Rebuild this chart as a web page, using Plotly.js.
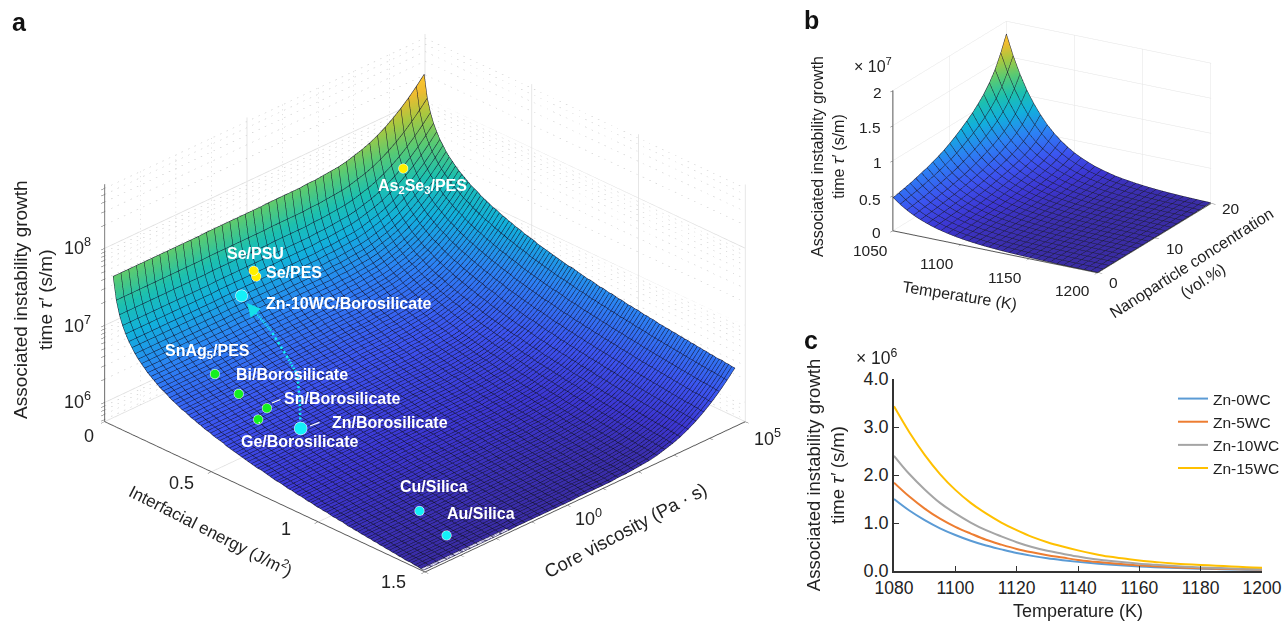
<!DOCTYPE html>
<html><head><meta charset="utf-8">
<script src="https://cdn.plot.ly/plotly-3.0.1.min.js"></script>
<style>html,body{margin:0;padding:0;background:#fff}#p{width:1282px;height:622px}</style>
</head><body><div id="p"></div>
<script>
// ---------- Panel a values ----------
const gammaLift=[1.92,1.63,1.46,1.34,1.25,1.17,1.11,1.05,1.00,.96,.92,.88,.85,.82,.79,.76,.74,.72,.69,.67,
.65,.63,.61,.60,.58,.56,.55,.53,.52,.50,.49,.48,.46,.45,.44,.43,.41,.40,.39,.38,
.37,.36,.35,.34,.33,.32,.31,.31,.30,.29,.28,.27,.26,.26,.25,.24,.23,.23,.22,.21,
.21,.20,.19,.19,.18,.17,.17,.16,.16,.15,.14,.14,.13,.13,.12,.11,.11,.10,.10,.09,
.09,.08,.08,.07,.07,.06,.06,.05,.05,.04,.04,.03,.03,.02,.02,.02,.01,.01,.00,.00];
const gammaStart=0.033, gammaStep=0.0147;
const etaLift=[0,0,0,0,0,0,0,0,0,0,0,0,.005,.005,.005,.005,.005,.005,.005,.005,.01,.01,.01,.01,.01,.02,.02,.03,.04,.05,.07,.10,.13,.17,.22,.28,.35,.43,.52,.62,.73];
const etaStartExp=-3.96, etaStepExp=0.2185;
const surfaceBaseExp=5.75;
const gammaTicks=[0,0.5,1,1.5];
const etaMajorExp=[-4,0,5], etaMinorExp=[-3,-2,-1,1,2,3,4];
const zMajorExp=[6,7,8], zRangeExp=[5.75,8.83];
const zMinorFactors=[2,3,4,5,6,7,8,9];

const matNames=['Au/Silica','Cu/Silica','Zn/Borosilicate','Ge/Borosilicate','Sn/Borosilicate','Bi/Borosilicate','SnAg5/PES','Zn-10WC/Borosilicate','Se/PSU','Se/PES','As2Se3/PES'];
const matGamma=[1.38,1.215,.63,.518,.49,.39,.285,.11,.075,.087,.069];
const matEtaExp=[-2.67,-2.44,-2.27,-2.79,-2.38,-2.57,-2.61,-.81,-.26,-.26,3.98];
const matTauExp=[5.785,5.838,6.112,6.194,6.216,6.312,6.442,6.84,7.0,6.94,7.40];
const matColor=['#14f0f8','#14f0f8','#14f0f8','#14f020','#14f020','#14f020','#14f020','#14f0f8','#fff000','#fff000','#fff000'];
const matSize=[11,11,15,11,11,11,11,14,11,11,11];
const pathGamma=[.63,.525,.42,.345,.2325,.195,.155];
const pathEtaExp=[-2.27,-1.66,-1.10,-.92,-.72,-.72,-.75];
const pathTauExp=[6.112,6.188,6.28,6.362,6.527,6.60,6.696];

// ---------- Panel b values ----------
const tempB=[1050,1055,1060,1065,1070,1075,1080,1085,1090,1095,1100,1105,1110,1115,1120,1125,1130,1135,1140,1145,1150,1155,1160,1165,1170,1175,1180,1185,1190,1195,1200];
const tempFactorB=[4.70,3.95,3.32,2.79,2.35,1.98,1.66,1.40,1.18,.99,.83,.70,.59,.49,.415,.35,.29,.245,.21,.175,.147,.124,.104,.087,.073,.062,.052,.044,.037,.031,.026];
const concB=[0,1,2,3,4,5,6,7,8,9,10,11,12,13,14,15,16,17,18,19,20];
const concFactorB=[1,1.04,1.08,1.12,1.17,1.23,1.28,1.35,1.42,1.5,1.6,1.71,1.83,1.96,2.1,2.27,2.46,2.7,3.0,3.4,3.87];

// ---------- Panel c values (x 10^6) ----------
const tempC=[1080,1085,1090,1095,1100,1105,1110,1115,1120,1125,1130,1135,1140,1145,1150,1155,1160,1165,1170,1175,1180,1185,1190,1195,1200];
const zn0=[1.50,1.26,1.06,.89,.75,.63,.53,.45,.375,.315,.265,.225,.19,.16,.135,.113,.095,.08,.067,.056,.047,.04,.033,.028,.024];
const zn5=[1.84,1.55,1.30,1.09,.92,.78,.65,.55,.46,.39,.33,.28,.23,.195,.165,.14,.117,.098,.083,.069,.058,.049,.041,.035,.03];
const zn10=[2.40,2.02,1.70,1.42,1.20,1.01,.85,.72,.60,.50,.42,.36,.30,.25,.215,.18,.15,.128,.107,.09,.075,.064,.053,.045,.038];
const zn15=[3.43,2.89,2.42,2.02,1.69,1.42,1.20,1.01,.85,.71,.60,.51,.43,.36,.30,.26,.22,.19,.16,.14,.125,.11,.095,.08,.07];
const seriesC=[['Zn-0WC',zn0,'#5b9bd5'],['Zn-5WC',zn5,'#ed7d31'],['Zn-10WC',zn10,'#a5a5a5'],['Zn-15WC',zn15,'#ffc000']];

const FONT='"Liberation Sans", Arial, sans-serif';
const parula=[[0,'#3a2ca4'],[.08,'#3c36d2'],[.18,'#3c54f0'],[.32,'#2c82f4'],[.46,'#12b0dc'],[.58,'#1cc0b0'],[.7,'#58ca74'],[.82,'#a8c840'],[.92,'#eebc30'],[1,'#ffc82e']];

const gammaVals=gammaLift.map((_,j)=>gammaStart+j*gammaStep);
const etaExps=etaLift.map((_,i)=>etaStartExp+i*etaStepExp);
const etaVals=etaExps.map(e=>Math.pow(10,e));
const surfAColor=etaLift.map(e=>gammaLift.map(h=>surfaceBaseExp+h+e));
const surfAZ=surfAColor.map(r=>r.map(v=>Math.pow(10,v)));
const p10=v=>Math.pow(10,v);
const etaLo=p10(-4),etaHi=p10(5),zLo=p10(zRangeExp[0]),zHi=p10(zRangeExp[1]);
// marks are slid toward the viewer along the line of sight so the surface cannot hide them
const sightGamma=.045, sightEtaExp=-.277, sightTauExp=.116;

function lineTrace(scene,color,width,xs,ys,zs){return {type:'scatter3d',mode:'lines',scene,x:xs,y:ys,z:zs,line:{color,width},hoverinfo:'skip',showlegend:false};}
function wallLines(color,width,segs){
  const x=[],y=[],z=[];
  segs.forEach(s=>{x.push(s[0],s[3],null);y.push(s[1],s[4],null);z.push(s[2],s[5],null);});
  return lineTrace('scene',color,width,x,y,z);
}
const zMinorVals=[];
[5,6,7,8].forEach(d=>zMinorFactors.forEach(f=>{const v=f*p10(d);if(v>zLo&&v<zHi)zMinorVals.push(v);}));
const majorSegs=[],minorSegs=[];
zMajorExp.map(p10).forEach(v=>{majorSegs.push([0,etaLo,v,0,etaHi,v],[0,etaHi,v,1.5,etaHi,v]);});
etaMajorExp.map(p10).forEach(v=>{majorSegs.push([0,v,zLo,0,v,zHi]);});
gammaTicks.forEach(g=>{majorSegs.push([g,etaHi,zLo,g,etaHi,zHi]);majorSegs.push([g,etaLo,zLo,g,etaHi,zLo]);});
etaMajorExp.map(p10).forEach(v=>majorSegs.push([0,v,zLo,1.5,v,zLo]));
const dotsAlong=50, dotLen=.22;
function dots(fn){for(let k=0;k<dotsAlong;k++){const a=k/dotsAlong,b=(k+dotLen)/dotsAlong;const A=fn(a),B=fn(b);minorSegs.push([A[0],A[1],A[2],B[0],B[1],B[2]]);}}
zMinorVals.forEach(v=>{
  dots(t=>[0,p10(-4+9*t),v]);
  dots(t=>[1.5*t,etaHi,v]);
});
etaMinorExp.forEach(e=>dots(t=>[0,p10(e),p10(zRangeExp[0]+(zRangeExp[1]-zRangeExp[0])*t)]));

const zTickAll=zMajorExp.map(p10).concat(zMinorVals);
const etaTickAll=etaMajorExp.concat(etaMinorExp).map(p10);

// mesh of panel a: one polyline per grid row and per grid column, just in front of the surface
const meshGammaLift=.006, meshEtaLift=-.037, meshTauLift=.0155;
const mAx=[],mAy=[],mAz=[];
etaExps.forEach((e,i)=>{gammaVals.forEach((g,j)=>{mAx.push(g+meshGammaLift);mAy.push(p10(e+meshEtaLift));mAz.push(p10(surfAColor[i][j]+meshTauLift));});mAx.push(null);mAy.push(null);mAz.push(null);});
gammaVals.forEach((g,j)=>{etaExps.forEach((e,i)=>{mAx.push(g+meshGammaLift);mAy.push(p10(e+meshEtaLift));mAz.push(p10(surfAColor[i][j]+meshTauLift));});mAx.push(null);mAy.push(null);mAz.push(null);});

// mesh of panel b
const surfBZ=concFactorB.map(c=>tempFactorB.map(t=>t*c*1e6));
const meshTLift=.24, meshCLift=-.055, meshZLift=3.8e4;
const mBx=[],mBy=[],mBz=[];
concB.forEach((c,i)=>{tempB.forEach((t,j)=>{mBx.push(t+meshTLift);mBy.push(c+meshCLift);mBz.push(surfBZ[i][j]+meshZLift);});mBx.push(null);mBy.push(null);mBz.push(null);});
tempB.forEach((t,j)=>{concB.forEach((c,i)=>{mBx.push(t+meshTLift);mBy.push(c+meshCLift);mBz.push(surfBZ[i][j]+meshZLift);});mBx.push(null);mBy.push(null);mBz.push(null);});

// dotted drawing of the arrow path between its read-off corners
const dashX=[],dashY=[],dashZ=[];
for(let s=0;s<pathGamma.length-1;s++){
  const pieces=6;
  for(let k=0;k<pieces;k++){
    [k/pieces,(k+.45)/pieces].forEach(t=>{
      dashX.push(pathGamma[s]+(pathGamma[s+1]-pathGamma[s])*t+sightGamma);
      dashY.push(p10(pathEtaExp[s]+(pathEtaExp[s+1]-pathEtaExp[s])*t+sightEtaExp));
      dashZ.push(p10(pathTauExp[s]+(pathTauExp[s+1]-pathTauExp[s])*t+sightTauExp));
    });
    dashX.push(null);dashY.push(null);dashZ.push(null);
  }
}

const flat={ambient:1,diffuse:0,specular:0,roughness:1,fresnel:0};
const traces=[
 wallLines('#dedede',1.5,majorSegs),
 wallLines('#c4c4c4',1,minorSegs),
 {type:'surface',scene:'scene',x:gammaVals,y:etaVals,z:surfAZ,surfacecolor:surfAColor,cmin:5.75,cmax:8.42,colorscale:parula,showscale:false,hoverinfo:'skip',lighting:flat},
 lineTrace('scene','#12122a',1,mAx,mAy,mAz),
 {type:'scatter3d',mode:'markers',scene:'scene',x:matGamma.map(v=>v+sightGamma),y:matEtaExp.map(v=>p10(v+sightEtaExp)),z:matTauExp.map(v=>p10(v+sightTauExp)),text:matNames,
  marker:{size:matSize,color:matColor,opacity:1},hoverinfo:'skip',showlegend:false},
 lineTrace('scene','#14f0f8',5,dashX,dashY,dashZ),
 {type:'surface',scene:'scene2',x:tempB,y:concB,z:surfBZ,cmin:0,cmax:1.84e7,colorscale:parula,showscale:false,hoverinfo:'skip',lighting:flat},
 lineTrace('scene2','#1c1c30',1,mBx,mBy,mBz)
];
seriesC.forEach(s=>traces.push({type:'scatter',mode:'lines',x:tempC,y:s[1],name:s[0],line:{color:s[2],width:2,shape:'spline'},xaxis:'x',yaxis:'y',hoverinfo:'skip'}));

function px(x){return x/1282;} function py(y){return 1-y/622;}
function label(t,x,y,opt){return Object.assign({xref:'paper',yref:'paper',x:px(x),y:py(y),text:t,showarrow:false,xanchor:'center',yanchor:'middle',font:{family:FONT,size:16,color:'#fff'}},opt||{});}
const w=(t,x,y)=>label('<b>'+t+'</b>',x,y);
const dark=(t,x,y,size,angle)=>label(t,x,y,{font:{family:FONT,size:size,color:'#222'},textangle:angle||0});
const lead=(x,y,ax,ay)=>label(' ',x,y,{showarrow:true,arrowhead:0,arrowcolor:'#fff',arrowwidth:1.2,ax:ax,ay:ay,standoff:0});
const ax3=(o)=>Object.assign({showbackground:false,showspikes:false,zeroline:false,showline:true,linecolor:'#555',linewidth:2,ticks:'outside',ticklen:5,tickcolor:'#555',showticklabels:false,title:{text:''},gridcolor:'#e4e4e4'},o);

const tickA=[['0',89,436],['0.5',181,483],['1',286,529],['1.5',393,582],['10<sup>0</sup>',588,517],['10<sup>5</sup>',767,437],['10<sup>6</sup>',77,400],['10<sup>7</sup>',77,324],['10<sup>8</sup>',77,246]];
const tickB=[['1050',870,250],['1100',937,263],['1150',1005,277],['1200',1072,290],['0',1113,282],['10',1175,248],['20',1231,208],['0',876,233],['0.5',870,199],['1',877,163],['1.5',870,128],['2',877,93]];

const annotations=[
 label('<b>a</b>',19,22,{font:{family:FONT,size:25,color:'#111'}}),
 label('<b>b</b>',811,20,{font:{family:FONT,size:25,color:'#111'}}),
 label('<b>c</b>',811,340,{font:{family:FONT,size:25,color:'#111'}}),
 dark('Associated instability growth<br>time <i>τ′</i> (s/m)',33,300,19,-90),
 dark('Interfacial energy (J/m<sup>2</sup>)',211,530,17,27),
 dark('Core viscosity (Pa · s)',625,530,18.5,-28),
 dark('Associated instability growth<br>time <i>τ′</i> (s/m)',828,157,16,-90),
 dark('Temperature (K)',960,295,16,9),
 dark('Nanoparticle concentration<br>(vol.%)',1197,272,16,-32.5),
 dark('× 10<sup>7</sup>',873,65,16),
 dark('× 10<sup>6</sup>',877,357,17.5),
 w('As<sub>2</sub>Se<sub>3</sub>/PES',422,186), w('Se/PSU',255,253), w('Se/PES',294,272),
 w('Zn-10WC/Borosilicate',348,303), w('SnAg<sub>5</sub>/PES',207,351), w('Bi/Borosilicate',292,374),
 w('Sn/Borosilicate',342,398), w('Zn/Borosilicate',390,422), w('Ge/Borosilicate',299,441),
 w('Cu/Silica',434,487), w('Au/Silica',481,513),
 lead(272,403,12,-5), lead(310,426,13,-5), lead(259,422,4,10),
 label(' ',247,303,{showarrow:true,arrowhead:2,arrowsize:.9,arrowwidth:3,arrowcolor:'#14e0e8',ax:12,ay:14,standoff:0})
].concat(tickA.map(t=>dark(t[0],t[1],t[2],18)),tickB.map(t=>dark(t[0],t[1],t[2],15.5)));

const layout={width:1282,height:622,margin:{l:0,r:0,t:0,b:0,autoexpand:false},paper_bgcolor:'#fff',showlegend:true,font:{family:FONT,color:'#222'},
 scene:{domain:{x:[0,.663],y:[.026,1]},bgcolor:'rgba(0,0,0,0)',aspectmode:'manual',aspectratio:{x:1.495,y:1.495,z:.887},
  camera:{projection:{type:'orthographic'},eye:{x:.825,y:-.825,z:.62},center:{x:0,y:0,z:0},up:{x:0,y:0,z:1}},
  xaxis:ax3({range:[0,1.5],tickvals:gammaTicks,showgrid:false}),
  yaxis:ax3({type:'log',range:[-4,5],tickvals:etaTickAll,showgrid:false}),
  zaxis:ax3({type:'log',range:zRangeExp,tickvals:zTickAll,showgrid:false})},
 scene2:{domain:{x:[.6447,.9957],y:[.527,1]},bgcolor:'rgba(0,0,0,0)',aspectmode:'manual',aspectratio:{x:1.61,y:1.54,z:1.02},
  camera:{projection:{type:'orthographic'},eye:{x:.51,y:-.88,z:.385},center:{x:0,y:0,z:0},up:{x:0,y:0,z:1}},
  xaxis:ax3({range:[1050,1200.3],tickvals:[1050,1100,1150,1200]}),
  yaxis:ax3({range:[-.06,20],tickvals:[0,10,20]}),
  zaxis:ax3({range:[0,2e7],tickvals:[0,5e6,1e7,1.5e7,2e7]})},
 xaxis:{domain:[px(894),px(1262)],anchor:'y',range:[1080,1200],dtick:20,tick0:1080,ticks:'inside',ticklen:5,tickcolor:'#333',showline:true,linecolor:'#333',linewidth:1.5,showgrid:false,zeroline:false,tickfont:{family:FONT,size:17.5,color:'#222'},title:{text:'Temperature (K)',font:{family:FONT,size:18,color:'#222'},standoff:8}},
 yaxis:{domain:[1-571/622,1-379/622],anchor:'x',range:[0,4],dtick:1,tickformat:'.1f',ticks:'inside',ticklen:5,tickcolor:'#333',showline:true,linecolor:'#333',linewidth:1.5,showgrid:false,zeroline:false,tickfont:{family:FONT,size:18,color:'#222'},title:{text:'Associated instability growth<br>time <i>τ′</i> (s/m)',font:{family:FONT,size:18.5,color:'#222'},standoff:14}},
 legend:{x:px(1173),y:py(382),xanchor:'left',yanchor:'top',bgcolor:'rgba(0,0,0,0)',font:{family:FONT,size:15.5,color:'#222'},tracegroupgap:0,itemwidth:30},
 annotations
};
Plotly.newPlot('p',traces,layout,{displayModeBar:false});
</script></body></html>
